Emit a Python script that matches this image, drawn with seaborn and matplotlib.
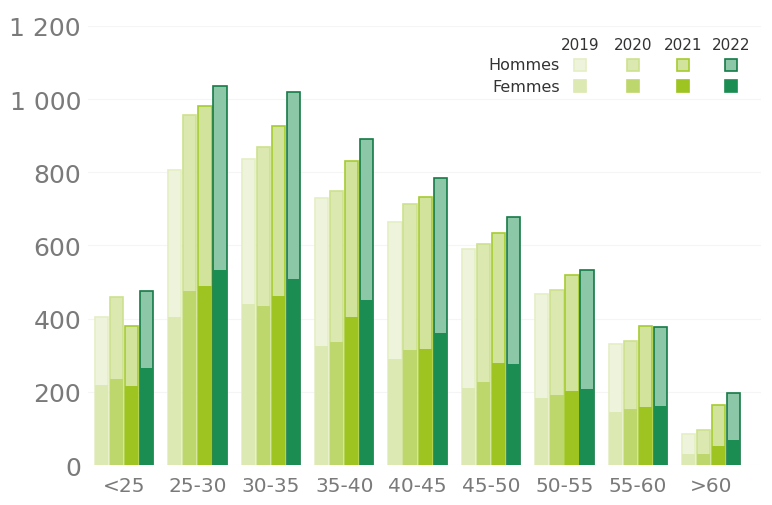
import numpy as np
import pandas as pd
import seaborn as sns
import matplotlib.pyplot as plt
from matplotlib.patches import Rectangle
from matplotlib.ticker import FuncFormatter

ages = ['<25', '25-30', '30-35', '35-40', '40-45', '45-50', '50-55', '55-60', '>60']
years = ['2019', '2020', '2021', '2022']

# femmes (bottom part) and hommes (top part) per year
femmes = {
    '2019': [220, 405, 440, 325, 290, 210, 182, 145, 30],
    '2020': [235, 475, 435, 336, 315, 228, 190, 152, 30],
    '2021': [215, 488, 462, 405, 318, 280, 202, 158, 52],
    '2022': [265, 532, 508, 450, 362, 276, 208, 162, 68],
}
hommes = {
    '2019': [185, 400, 395, 405, 375, 380, 286, 185, 55],
    '2020': [225, 480, 435, 412, 397, 375, 288, 186, 65],
    '2021': [165, 492, 463, 425, 414, 355, 318, 222, 113],
    '2022': [210, 503, 512, 440, 423, 402, 324, 216, 130],
}

fem_colors = ['#dce9b2', '#bdd76c', '#9dc420', '#1b8c52']
hom_colors = ['#eef4dc', '#dbe9b0', '#d2e49c', '#8cc7a8']
edge_colors = ['#e4eec4', '#cde18e', '#a6cb30', '#167a47']

rows = []
for y in years:
    for i, a in enumerate(ages):
        rows.append({'age': a, 'year': y, 'femmes': femmes[y][i],
                     'total': femmes[y][i] + hommes[y][i]})
df = pd.DataFrame(rows)

sns.set_style('white')
plt.rcParams['font.family'] = ['DejaVu Sans']

fig = plt.figure(figsize=(7.72, 5.06), dpi=100)
ax = fig.add_axes([0.114, 0.079, 0.872, 0.868])

sns.barplot(data=df, x='age', y='total', hue='year', palette=hom_colors,
            width=0.82, gap=0.12, ax=ax, legend=False, saturation=1)
n_tot = len(ax.patches)
sns.barplot(data=df, x='age', y='femmes', hue='year', palette=fem_colors,
            width=0.82, gap=0.12, ax=ax, legend=False, saturation=1)

for k, p in enumerate(ax.patches):
    yi = (k % n_tot) // len(ages)
    if k < n_tot:
        p.set_edgecolor(edge_colors[yi])
        p.set_linewidth(1.2)
    else:
        p.set_linewidth(0)

ax.set_ylim(0, 1200)
ax.set_xlim(-0.49, 8.68)
ax.set_yticks(range(0, 1201, 200))
ax.yaxis.set_major_formatter(FuncFormatter(lambda v, _: f'{int(v):,}'.replace(',', ' ')))
ax.set_axisbelow(True)
ax.yaxis.grid(True, color='#f5f5f5', linewidth=0.8)
sns.despine(ax=ax, left=True, bottom=True)
ax.set_xlabel('')
ax.set_ylabel('')
ax.tick_params(axis='y', labelsize=18, colors='#7a7a7a', length=0, pad=5)
ax.tick_params(axis='x', labelsize=14.5, colors='#7a7a7a', length=0, pad=8)

# custom legend
W, H = 772, 506
year_x = [580, 633, 683, 731]
for y, xp in zip(years, year_x):
    fig.text(xp / W, 1 - 45 / H, y, ha='center', va='center', fontsize=11, color='#333333')
fig.text(560 / W, 1 - 66 / H, 'Hommes', ha='right', va='center', fontsize=11.5, color='#333333')
fig.text(560 / W, 1 - 87 / H, 'Femmes', ha='right', va='center', fontsize=11.5, color='#333333')
s = 12
for i, xp in enumerate(year_x):
    fig.add_artist(Rectangle(((xp - s / 2) / W, 1 - (66 + s / 2) / H), s / W, s / H,
                             transform=fig.transFigure, facecolor=hom_colors[i],
                             edgecolor=edge_colors[i], linewidth=1.2))
    fig.add_artist(Rectangle(((xp - s / 2) / W, 1 - (87 + s / 2) / H), s / W, s / H,
                             transform=fig.transFigure, facecolor=fem_colors[i],
                             edgecolor=fem_colors[i], linewidth=1.2))

fig.savefig('out.png', dpi=100)
